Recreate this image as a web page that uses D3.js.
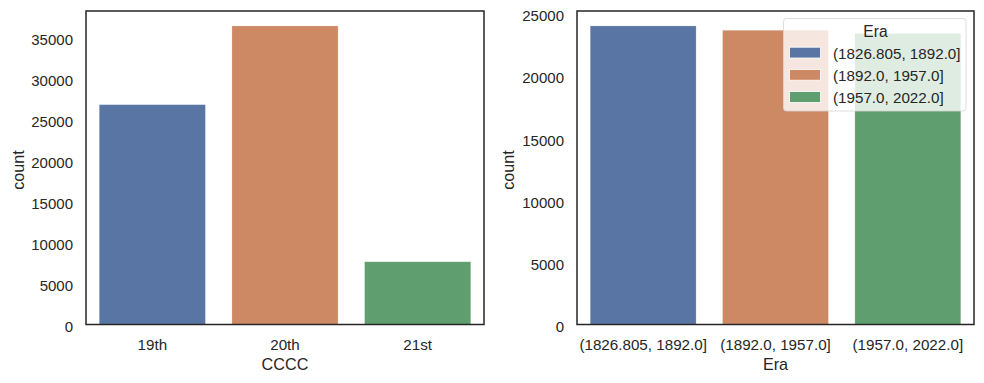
<!DOCTYPE html>
<html><head><meta charset="utf-8">
<script src="https://cdn.jsdelivr.net/npm/d3@7"></script>
<style>body{margin:0;background:#fff}svg text{font-family:"Liberation Sans",Arial,sans-serif;fill:#262626}</style>
</head><body><svg id="c" width="984" height="383"></svg>
<script>
const centuryCats = ["19th","20th","21st"];
const centuryCounts = [26800, 36400, 7650];
const eraCats = ["(1826.805, 1892.0]","(1892.0, 1957.0]","(1957.0, 2022.0]"];
const eraCounts = [24000, 23650, 23400];
const leftTicks = [0,5000,10000,15000,20000,25000,30000,35000];
const rightTicks = [0,5000,10000,15000,20000,25000];
const colors = ["#5975a4","#cc8963","#5f9e6e"];

const svg = d3.select("#c");
function panel(x0, x1, cats, vals, ticks, xlabel, ylabelX, legend){
  const top = 11, bottom = 324.5;
  const g = svg.append("g");
  const x = d3.scaleBand().domain(cats).range([x0, x1]).paddingInner(0.2).paddingOuter(0.1);
  const y = d3.scaleLinear().domain([0, d3.max(vals)*1.05]).range([bottom, top]);
  g.selectAll("rect.bar").data(cats).enter().append("rect")
    .attr("x", d=>x(d)).attr("width", x.bandwidth())
    .attr("y", (d,i)=>y(vals[i])).attr("height", (d,i)=>bottom - y(vals[i]))
    .attr("fill", (d,i)=>colors[i]).attr("stroke","rgba(255,255,255,0.25)").attr("stroke-width",0.8);
  const ya = g.append("g").attr("transform",`translate(${x0},0)`)
    .call(d3.axisLeft(y).tickValues(ticks).tickSize(0).tickPadding(13).tickFormat(d3.format("d")));
  ya.select(".domain").remove();
  ya.selectAll("text").style("font-size","15px").attr("fill","#262626").attr("dy","0.48em");
  const xa = g.append("g").attr("transform",`translate(0,${bottom})`)
    .call(d3.axisBottom(x).tickSize(0).tickPadding(15));
  xa.select(".domain").remove();
  xa.selectAll("text").style("font-size","15.2px").attr("fill","#262626");
  g.append("text").attr("x",(x0+x1)/2).attr("y",370).attr("text-anchor","middle").style("font-size","16.2px").text(xlabel);
  g.append("text").attr("transform",`translate(${ylabelX},${170}) rotate(-90)`).attr("text-anchor","middle").style("font-size","16.2px").text("count");
  if (legend){
    const lx = 783.5, ly = 18.5, lw = 182.5, lh = 92.5;
    const lg = g.append("g");
    lg.append("rect").attr("x",lx).attr("y",ly).attr("width",lw).attr("height",lh).attr("rx",3)
      .attr("fill","rgba(255,255,255,0.8)").attr("stroke","#d6d6d6").attr("stroke-width",0.8);
    lg.append("text").attr("x",875.5).attr("y",36.7).attr("text-anchor","middle").style("font-size","15.6px").text("Era");
    cats.forEach((c,i)=>{
      const by = 47.2 + i*22.2;
      lg.append("rect").attr("x",789.5).attr("y",by).attr("width",31).attr("height",10.8)
        .attr("fill",colors[i]).attr("stroke","#fff").attr("stroke-width",0.8);
      lg.append("text").attr("x",833).attr("y",by+11.3).style("font-size","15.2px").text(c);
    });
  }
  g.append("rect").attr("x",x0).attr("y",top).attr("width",x1-x0).attr("height",bottom-top)
    .attr("fill","none").attr("stroke","#262626").attr("stroke-width",1.5);
}
panel(86, 484, centuryCats, centuryCounts, leftTicks, "CCCC", 23.5, false);
panel(577, 974, eraCats, eraCounts, rightTicks, "Era", 514, true);
</script></body></html>
